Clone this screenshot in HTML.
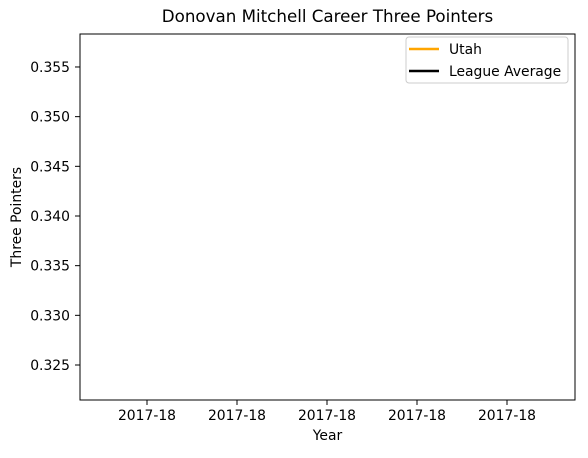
<!DOCTYPE html>
<html><head><meta charset="utf-8"><style>
body{margin:0;background:#fff;}
svg text{font-family:"DejaVu Sans","Liberation Sans",sans-serif;fill:#000;}
</style></head><body>
<svg id="chart" width="588" height="453">
<rect x="0" y="0" width="588" height="453" fill="#fff"/>
<text x="327.5" y="22" font-size="16.7" text-anchor="middle">Donovan Mitchell Career Three Pointers</text>
<g id="yticks"></g><g id="xticks"></g><g id="series"></g>
<rect x="80" y="34" width="495" height="366" fill="none" stroke="#000" stroke-width="1"/>
<text x="327.5" y="440" font-size="13.9" text-anchor="middle">Year</text>
<text transform="translate(21,217) rotate(-90)" font-size="13.9" text-anchor="middle">Three Pointers</text>
<g>
<rect x="406" y="37" width="162" height="46" rx="3" fill="#fff" stroke="#ccc"/>
<g><line x1="409" y1="49" x2="439" y2="49" stroke="#ffa500" stroke-width="2.5"/><text x="449" y="54" font-size="13.9">Utah</text></g>
<g><line x1="409" y1="71" x2="439" y2="71" stroke="#000" stroke-width="2.5"/><text x="449" y="76" font-size="13.9">League Average</text></g>
</g>
</svg>
<script>
const yTickValues=[0.325,0.330,0.335,0.340,0.345,0.350,0.355];
const xTickLabels=["2017-18","2017-18","2017-18","2017-18","2017-18"];
const xTickPos=[-0.2,-0.1,0,0.1,0.2];
const categories=["2017-18"];
const utahValues=[0.340];
const leagueValues=[0.340];
const NS="http://www.w3.org/2000/svg";
function y(v){return 365-(v-0.325)/0.005*49.67;}
function x(v){return 327+v*900;}
const yt=document.getElementById('yticks');
yTickValues.forEach(v=>{
 const l=document.createElementNS(NS,'line');l.setAttribute('x1',75);l.setAttribute('x2',80);l.setAttribute('y1',y(v));l.setAttribute('y2',y(v));l.setAttribute('stroke','#000');
 
 
 yt.appendChild(l);
 const t=document.createElementNS(NS,'text');t.setAttribute('x',70);t.setAttribute('y',y(v)+5);t.setAttribute('font-size','13.9');t.setAttribute('text-anchor','end');t.textContent=v.toFixed(3);
 
 
 yt.appendChild(t);
});
const xt=document.getElementById('xticks');
xTickPos.forEach((p,i)=>{
 const l=document.createElementNS(NS,'line');l.setAttribute('x1',x(p));l.setAttribute('x2',x(p));l.setAttribute('y1',400);l.setAttribute('y2',405);l.setAttribute('stroke','#000');
 
 
 xt.appendChild(l);
 const t=document.createElementNS(NS,'text');t.setAttribute('x',x(p));t.setAttribute('y',420);t.setAttribute('font-size','13.9');t.setAttribute('text-anchor','middle');t.textContent=xTickLabels[i];
 
 
 xt.appendChild(t);
});
const sg=document.getElementById('series');
[[utahValues,'#ffa500','utah-line'],[leagueValues,'#000','league-average-line']].forEach(([vals,c,n])=>{
 const d=vals.map((v,i)=>(i?'L':'M')+x(i)+','+y(v)).join(' ');
 const p=document.createElementNS(NS,'path');p.setAttribute('d',d);p.setAttribute('stroke',c);p.setAttribute('fill','none');p.setAttribute('stroke-width','2');
 
 
 sg.appendChild(p);
});
</script>
</body></html>
